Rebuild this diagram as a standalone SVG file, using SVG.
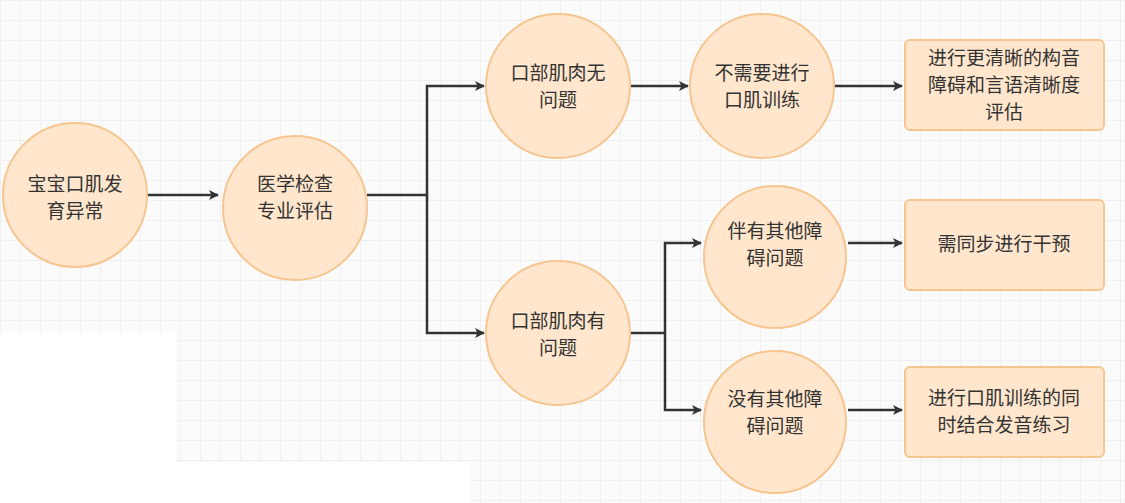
<svg xmlns="http://www.w3.org/2000/svg" width="1125" height="503" viewBox="0 0 1125 503">
<defs>
<pattern id="g" width="20" height="20" patternUnits="userSpaceOnUse"><path d="M20 0H0V20" fill="none" stroke="#e6e6e6" stroke-width="1"/></pattern>
<marker id="a" markerWidth="10" markerHeight="10" refX="9" refY="5" orient="auto" markerUnits="userSpaceOnUse"><path d="M0 0L10 5L0 10L2.5 5Z" fill="#333"/></marker>
<style>
.n{fill:#ffe6cc;stroke:#f7c590;stroke-width:2}
.c{fill:none;stroke:#333;stroke-width:2.5}
text{font-family:"Noto Sans CJK SC",sans-serif;font-size:19px;fill:#333;text-anchor:middle}
</style>
</defs>
<rect width="1125" height="503" fill="#fbfbfb"/>
<rect width="1125" height="503" fill="url(#g)"/>
<rect x="0" y="332" width="176" height="171" fill="#fff"/>
<rect x="176" y="462" width="294" height="41" fill="#fff"/>
<g id="connectors">
<path class="c" d="M147 195H218" marker-end="url(#a)"/>
<path class="c" d="M367 195H427V86H484" marker-end="url(#a)"/>
<path class="c" d="M427 195V333H484" marker-end="url(#a)"/>
<path class="c" d="M630 86H688" marker-end="url(#a)"/>
<path class="c" d="M834 86H902" marker-end="url(#a)"/>
<path class="c" d="M630 333H665V243H701" marker-end="url(#a)"/>
<path class="c" d="M665 333V410H701" marker-end="url(#a)"/>
<path class="c" d="M848 243H902" marker-end="url(#a)"/>
<path class="c" d="M848 410H902" marker-end="url(#a)"/>
</g>
<g id="n1"><circle class="n" cx="75" cy="195" r="72"/><text x="75" y="191">宝宝口肌发</text><text x="75" y="218">育异常</text></g>
<g id="n2"><circle class="n" cx="295" cy="208" r="72"/><text x="295" y="191">医学检查</text><text x="295" y="218">专业评估</text></g>
<g id="n3"><circle class="n" cx="558" cy="86" r="72"/><text x="558" y="80">口部肌肉无</text><text x="558" y="107">问题</text></g>
<g id="n4"><circle class="n" cx="558" cy="333" r="72"/><text x="558" y="328">口部肌肉有</text><text x="558" y="355">问题</text></g>
<g id="n5"><circle class="n" cx="762" cy="86" r="72"/><text x="762" y="80">不需要进行</text><text x="762" y="107">口肌训练</text></g>
<g id="n6"><circle class="n" cx="775" cy="257" r="71"/><text x="775" y="238">伴有其他障</text><text x="775" y="265">碍问题</text></g>
<g id="n7"><circle class="n" cx="775" cy="422" r="71"/><text x="775" y="406">没有其他障</text><text x="775" y="433">碍问题</text></g>
<g id="n8"><rect class="n" x="905" y="40" width="199" height="90" rx="5"/><text x="1004" y="65">进行更清晰的构音</text><text x="1004" y="92">障碍和言语清晰度</text><text x="1004" y="119">评估</text></g>
<g id="n9"><rect class="n" x="905" y="200" width="199" height="90" rx="5"/><text x="1004" y="251">需同步进行干预</text></g>
<g id="n10"><rect class="n" x="905" y="367" width="199" height="90" rx="5"/><text x="1004" y="405">进行口肌训练的同</text><text x="1004" y="432">时结合发音练习</text></g>
</svg>
